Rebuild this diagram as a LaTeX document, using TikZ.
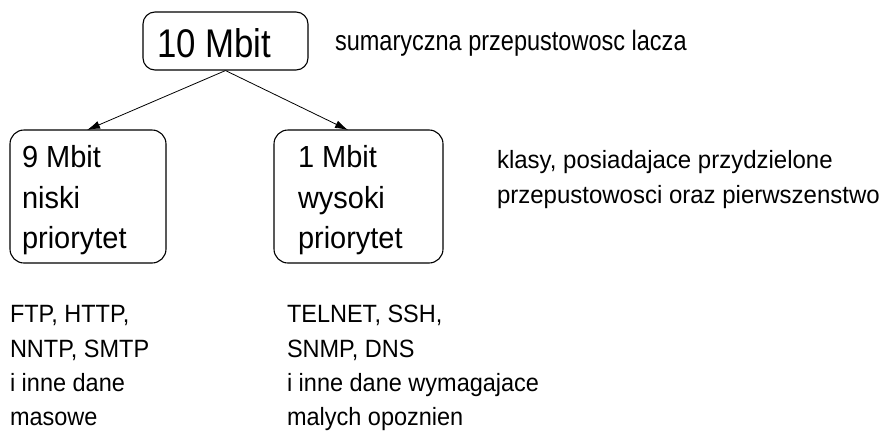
\documentclass[tikz,border=0pt]{standalone}
\usepackage{fontspec}
\usepackage{graphicx}
\setmainfont{Liberation Sans}
\usetikzlibrary{arrows.meta}
\newcommand{\hsq}[2]{\scalebox{#1}[1]{#2}}
\begin{document}
\begin{tikzpicture}[x=1pt,y=-1pt,
  boxshape/.style={draw, line width=1.1pt, rounded corners=14pt},
  txt/.style={anchor=base west, inner sep=0pt, outer sep=0pt},
  conn/.style={line width=0.8pt, -{Latex[length=13pt,width=8pt]}}]
\useasboundingbox (0,0) rectangle (880,434);
% boxes
\node[boxshape, minimum width=165pt, minimum height=58pt, inner sep=0pt, rounded corners=12pt] (top) at (225.5,41) {};
\node[txt, font=\fontsize{40}{40}\selectfont] (toptxt) at (157,57) {\hsq{0.87}{10 Mbit}};
\node[boxshape, minimum width=156pt, minimum height=133pt, inner sep=0pt] (left) at (88,196.5) {};
\node[boxshape, minimum width=169pt, minimum height=133pt, inner sep=0pt] (right) at (358.5,196.5) {};
% arrows
\coordinate (la) at (87,130);
\coordinate (ra) at (348,130);
\draw[conn] (top.south) -- (la);
\draw[conn] (top.south) -- (ra);
% box texts
\begin{scope}[every node/.style={txt, font=\fontsize{30.5}{30}\selectfont}]
\node (l1) at (22,167) {\hsq{0.95}{9 Mbit}};
\node (l2) at (22,208) {\hsq{0.95}{niski}};
\node (l3) at (22,248) {\hsq{0.95}{priorytet}};
\node (r1) at (298,167) {\hsq{0.95}{1 Mbit}};
\node (r2) at (298,208) {\hsq{0.95}{wysoki}};
\node (r3) at (298,248) {\hsq{0.95}{priorytet}};
\end{scope}
% side texts
\node[txt, font=\fontsize{28}{28}\selectfont] (sum) at (335,50) {\hsq{0.84}{sumaryczna przepustowosc lacza}};
\begin{scope}[every node/.style={txt, font=\fontsize{25}{25}\selectfont}]
\node (k1) at (497,168) {\hsq{0.96}{klasy, posiadajace przydzielone}};
\node (k2) at (497,203) {\hsq{0.96}{przepustowosci oraz pierwszenstwo}};
\end{scope}
% bottom texts
\begin{scope}[every node/.style={txt, font=\fontsize{25}{25}\selectfont}]
\node (b1) at (10,322) {\hsq{0.94}{FTP, HTTP,}};
\node (b2) at (10,357) {\hsq{0.94}{NNTP, SMTP}};
\node (b3) at (10,391) {\hsq{0.94}{i inne dane}};
\node (b4) at (10,425) {\hsq{0.94}{masowe}};
\node (c1) at (287,322) {\hsq{0.94}{TELNET, SSH,}};
\node (c2) at (287,357) {\hsq{0.94}{SNMP, DNS}};
\node (c3) at (287,391) {\hsq{0.94}{i inne dane wymagajace}};
\node (c4) at (287,425) {\hsq{0.94}{malych opoznien}};
\end{scope}
\end{tikzpicture}
\end{document}
